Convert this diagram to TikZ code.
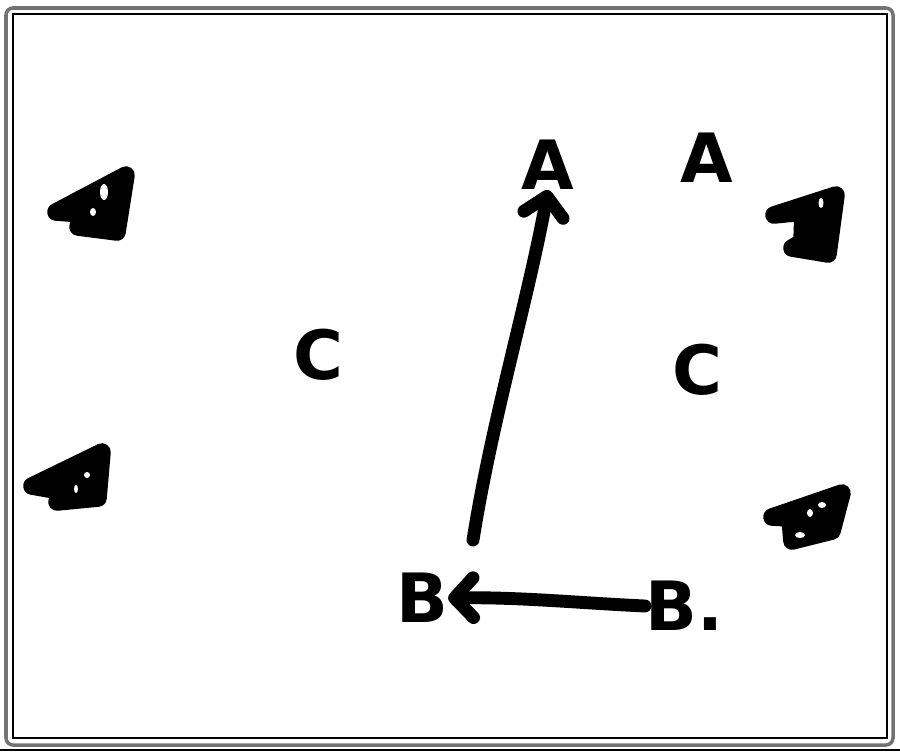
\documentclass[tikz,border=0pt]{standalone}
\usepackage{fontspec}
\setmainfont{DejaVu Sans}
\usetikzlibrary{arrows.meta}
\tikzset{
  ink/.style={line width=11pt, line cap=round, line join=round, draw=black},
  blob/.style={line width=15pt, line cap=round, line join=round, draw=black, fill=black},
  hole/.style={fill=white, draw=none},
  lbl/.style={font=\fontsize{58}{58}\selectfont\bfseries, inner sep=0pt},
  tip/.style={-{Straight Barb[length=16pt,width=34pt,round]}},
  frameout/.style={draw=black!55, line width=3pt, rounded corners=6pt},
  framein/.style={draw=black, line width=0.9pt}
}
\begin{document}
\begin{tikzpicture}[x=0.03cm,y=-0.03cm]
\useasboundingbox (0,0) rectangle (900,752);
% frame
\draw[frameout] (6,8) rectangle (893,745);
\draw[framein] (13,14) rectangle (887,738);
\draw[framein] (0,750) -- (900,750);

% triangle markers
\draw[blob] (56,212) -- (126,175) -- (117,232) -- (78,227) -- (82,214) -- cycle;
\fill[hole] (104,192) ellipse (4 and 8);
\fill[hole] (93,212) ellipse (3 and 4);
\draw[blob] (32,486) -- (102,452) -- (98,498) -- (57,502) -- (60,491) -- cycle;
\fill[hole] (87,475) ellipse (3 and 3);
\fill[hole] (76,489) ellipse (2 and 4);
\draw[blob] (774,215) -- (836,195) -- (828,254) -- (792,248) -- (802,242) -- (803,212) -- cycle;
\fill[hole] (821,203) ellipse (2.5 and 5);
\draw[blob] (772,517) -- (842,493) -- (832,531) -- (792,541) -- (790,518) -- cycle;
\fill[hole] (822,505) ellipse (4 and 3);
\fill[hole] (810,513) ellipse (3 and 4);
\fill[hole] (800,535) ellipse (5 and 3);

% labels
\node[lbl] (A1) at (548,165) {A};
\node[lbl] (A2) at (707,158) {A};
\node[lbl] (C1) at (318,355) {C};
\node[lbl] (C2) at (697,370) {C};
\node[lbl] (B1) at (422,598) {B};
\node[lbl, anchor=west] (B2) at (645,606) {B.};

% connectors
\coordinate (vs) at (473,540);
\draw[ink, tip] (vs) .. controls (492,420) and (528,300) .. (A1.south);
\draw[ink, tip] (B2.west) .. controls (580,603) and (520,597) .. (B1.east);
\end{tikzpicture}
\end{document}
